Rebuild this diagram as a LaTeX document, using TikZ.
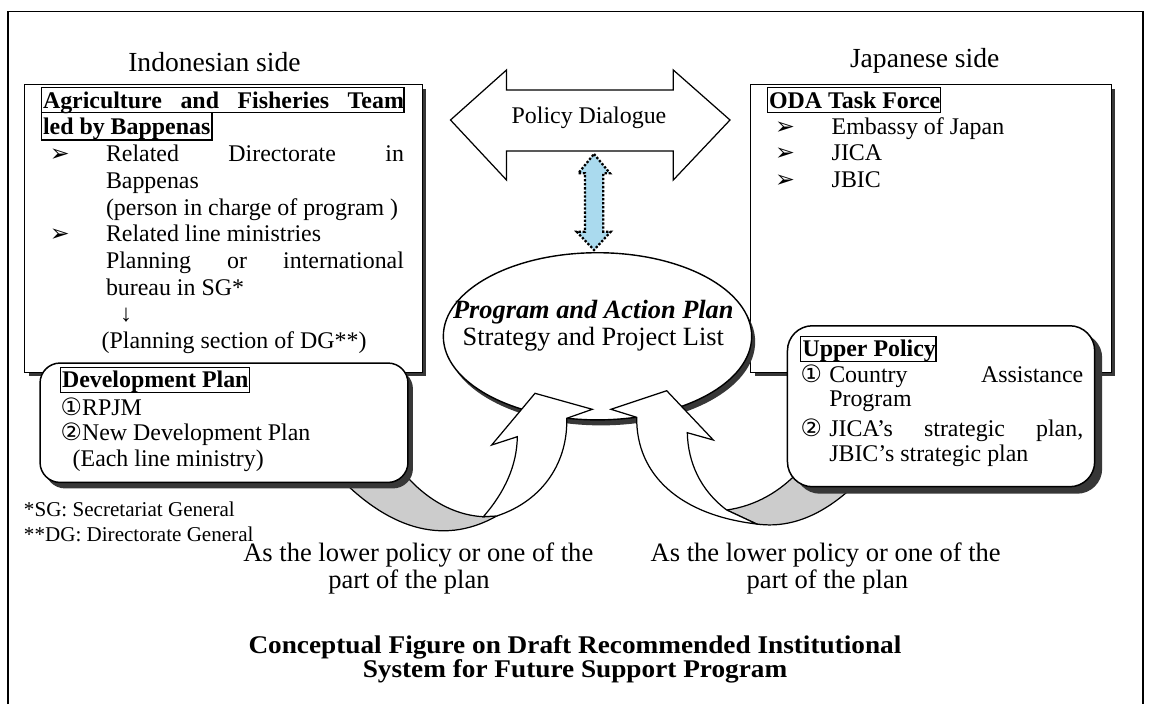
\documentclass[tikz,border=0pt]{standalone}
\usepackage{fontspec}
\setmainfont{Liberation Serif}
\newfontfamily\symfont{DejaVu Sans}
\usetikzlibrary{shadows,shapes.geometric}

\definecolor{shade}{RGB}{55,55,55}
\definecolor{backgray}{RGB}{204,204,204}
\definecolor{dotblue}{RGB}{170,218,238}

\newcommand\fsBody{\fontsize{13.6}{15}\selectfont}
\newcommand\fsHead{\fontsize{15.7}{17}\selectfont}
\newcommand\fsNote{\fontsize{12}{13}\selectfont}
\newcommand\fsOval{\fontsize{15}{16}\selectfont}
\newcommand\fsLabel{\fontsize{15.1}{16}\selectfont}
\newcommand\fsCap{\fontsize{14.5}{15}\selectfont\bfseries}
\newcommand\fsBullet{\fontsize{13.5}{14}\selectfont\symfont}
\newcommand\widecap[1]{\scalebox{1.07}[1]{#1}}

\tikzset{
  txt/.style={anchor=base west, inner sep=0pt, outer sep=0pt},
  ctxt/.style={anchor=base, inner sep=0pt, outer sep=0pt},
  bigbox/.style={draw, line width=0.75pt, fill=white, inner sep=0pt, anchor=north west,
    drop shadow={shadow xshift=0.08cm, shadow yshift=-0.08cm, fill=shade, opacity=1}},
  roundbox/.style={draw, line width=0.85pt, fill=white, inner sep=0pt, anchor=north west},
  hdrframe/.style={draw, line width=0.8pt},
  blockline/.style={draw, line width=0.7pt, fill=white, line join=miter},
}

\begin{document}
\begin{tikzpicture}[x=0.02cm, y=-0.02cm]
\useasboundingbox (0,0) rectangle (1150,704);
\fill[white] (0,0) rectangle (1150,704);

% outer frame
\draw[line width=0.75pt] (8,704) -- (8,11.7) -- (1143,11.7) -- (1143,704);

% side headings
\node[txt, font=\fsHead] (indohead) at (128.3,71) {Indonesian side};
\node[txt, font=\fsHead] (japhead) at (850,67) {Japanese side};

% the two team boxes
\node[bigbox, minimum width=7.954cm, minimum height=5.754cm] (indo) at (24,84) {};
\node[bigbox, minimum width=7.214cm, minimum height=5.754cm] (jap) at (750,84) {};

% policy dialogue block arrow
\draw[blockline] (450.5,120) -- (506.5,70) -- (506.5,90) -- (673.3,90) -- (673.3,70) -- (730,120)
  -- (673.3,180) -- (673.3,151) -- (506.5,151) -- (506.5,180) -- cycle;
\node[ctxt, font=\fsBody] (dialogue) at (589,123.3) {Policy Dialogue};

% dotted two-way link between dialogue and plan
\draw[densely dotted, line width=1.3pt, fill=dotblue, line join=miter]
  (594,154) -- (610,173.3) -- (603.3,173.3) -- (603.3,231.7) -- (610.7,231.7) -- (594,250)
  -- (576.7,231.7) -- (585,231.7) -- (585,173.3) -- (578.3,173.3) -- cycle;

% central plan ellipse
\node[draw, ellipse, line width=0.8pt, fill=white, inner sep=0pt,
  minimum width=6.168cm, minimum height=3.344cm,
  drop shadow={shadow xshift=0.07cm, shadow yshift=-0.11cm, fill=shade, opacity=1}]
  (plan) at (597.5,336.3) {};
\node[ctxt, font=\fsOval\bfseries\itshape] (plantitle) at (593.3,318.3) {Program and Action Plan};
\node[ctxt, font=\fsOval] (plansub) at (593.3,345) {Strategy and Project List};

% back (shaded) side of the curved arrows
\draw[line width=0.7pt, fill=backgray]
  (338,476) .. controls (385,525) and (440,548) .. (496.7,516)
  -- (483.3,516.7) .. controls (450,515) and (420,495) .. (398,466) -- cycle;
\draw[line width=0.7pt, fill=backgray]
  (726.7,510) .. controls (755,506) and (780,492) .. (800,470)
  -- (860,480) .. controls (835,505) and (800,530) .. (756.7,524) -- cycle;

% plan boxes with rounded corners
\node[roundbox, rounded corners=0.4cm, minimum width=7.36cm, minimum height=2.388cm,
  drop shadow={shadow xshift=0.1cm, shadow yshift=-0.12cm, fill=shade, opacity=1}]
  (devplan) at (39.3,362.3) {};
\node[roundbox, rounded corners=0.5cm, minimum width=6.146cm, minimum height=3.22cm,
  drop shadow={shadow xshift=0.15cm, shadow yshift=-0.14cm, fill=shade, opacity=1}]
  (upper) at (786.7,325) {};

% front (white) side of the curved arrows
\draw[blockline]
  (483.3,516.7) .. controls (505,492) and (517,465) .. (517.3,436.7)
  -- (491.7,445) -- (535,393.3) -- (592.3,409.3) -- (566.7,418.3)
  .. controls (568,460) and (545,500) .. (496.7,516) -- cycle;
\draw[blockline]
  (726.7,510) .. controls (700,490) and (688,462) .. (687.3,432.7)
  -- (713.3,440) -- (666.7,390.7) -- (611,409.3) -- (636.7,417.3)
  .. controls (636,475) and (680,515) .. (756.7,524) -- cycle;

% Indonesian team
\node[txt, font=\fsBody\bfseries] (agri1) at (43,108.3) {\makebox[7.22cm][s]{Agriculture and Fisheries Team}};
\node[txt, font=\fsBody\bfseries] (agri2) at (43,134) {led by Bappenas};
\draw[hdrframe] (41.7,87.7) rectangle (404,112.7);
\draw[hdrframe] (41.7,112.7) rectangle (212,140);
\node[txt, font=\fsBullet] (ib1) at (50,161.7) {➢};
\node[txt, font=\fsBody] (i1) at (106,161.7) {\makebox[5.96cm][s]{Related Directorate in}};
\node[txt, font=\fsBody] (i2) at (106,188.3) {Bappenas};
\node[txt, font=\fsBody] (i3) at (106,215) {(person in charge of program )};
\node[txt, font=\fsBullet] (ib2) at (50,241.7) {➢};
\node[txt, font=\fsBody] (i4) at (106,241.7) {Related line ministries};
\node[txt, font=\fsBody] (i5) at (106,268.3) {\makebox[5.96cm][s]{Planning or international}};
\node[txt, font=\fsBody] (i6) at (106,295) {bureau in SG*};
\node[txt, font=\fsBody] (i7) at (120,321.7) {↓};
\node[txt, font=\fsBody] (i8) at (101.7,348.3) {(Planning section of DG**)};

% Japanese team
\node[txt, font=\fsBody\bfseries] (oda) at (769,108.3) {ODA Task Force};
\draw[hdrframe] (767.3,87.7) rectangle (940.7,112.7);
\node[txt, font=\fsBullet] (jb1) at (775,134) {➢};
\node[txt, font=\fsBody] (j1) at (831.7,134) {Embassy of Japan};
\node[txt, font=\fsBullet] (jb2) at (775,160.7) {➢};
\node[txt, font=\fsBody] (j2) at (831.7,160.7) {JICA};
\node[txt, font=\fsBullet] (jb3) at (775,187.3) {➢};
\node[txt, font=\fsBody] (j3) at (831.7,187.3) {JBIC};

% development plan
\node[txt, font=\fsBody\bfseries] (devtitle) at (62,387.7) {Development Plan};
\draw[hdrframe] (60.3,367.3) rectangle (249.3,392.7);
\node[txt, font=\fsBody] (d1) at (60.7,415) {{\symfont ①}RPJM};
\node[txt, font=\fsBody] (d2) at (60.7,440) {{\symfont ②}New Development Plan};
\node[txt, font=\fsBody] (d3) at (72.7,466.7) {(Each line ministry)};

% upper policy
\node[txt, font=\fsBody\bfseries] (uptitle) at (802.5,356.7) {Upper Policy};
\draw[hdrframe] (800.7,336.7) rectangle (936,361.7);
\node[txt, font=\fsBody\symfont] (un1) at (800.7,382.7) {①};
\node[txt, font=\fsBody] (u1) at (829.3,382.7) {\makebox[5.08cm][s]{Country Assistance}};
\node[txt, font=\fsBody] (u2) at (829.3,406.7) {Program};
\node[txt, font=\fsBody\symfont] (un2) at (800.7,436.7) {②};
\node[txt, font=\fsBody] (u3) at (829.3,436.7) {\makebox[5.08cm][s]{JICA’s strategic plan,}};
\node[txt, font=\fsBody] (u4) at (829.3,461.7) {JBIC’s strategic plan};

% footnotes
\node[txt, font=\fsNote] (fn1) at (24,516.7) {*SG: Secretariat General};
\node[txt, font=\fsNote] (fn2) at (24,541.7) {**DG: Directorate General};

% arrow labels
\node[txt, font=\fsLabel] (la1) at (243.3,561.7) {As the lower policy or one of the};
\node[txt, font=\fsLabel] (la2) at (328.3,588.3) {part of the plan};
\node[txt, font=\fsLabel] (ra1) at (650.7,561.7) {As the lower policy or one of the};
\node[txt, font=\fsLabel] (ra2) at (746.7,588.3) {part of the plan};

% caption
\node[ctxt, font=\fsCap] (cap1) at (575,653) {\widecap{Conceptual Figure on Draft Recommended Institutional}};
\node[ctxt, font=\fsCap] (cap2) at (575,677) {\widecap{System for Future Support Program}};
\end{tikzpicture}
\end{document}
